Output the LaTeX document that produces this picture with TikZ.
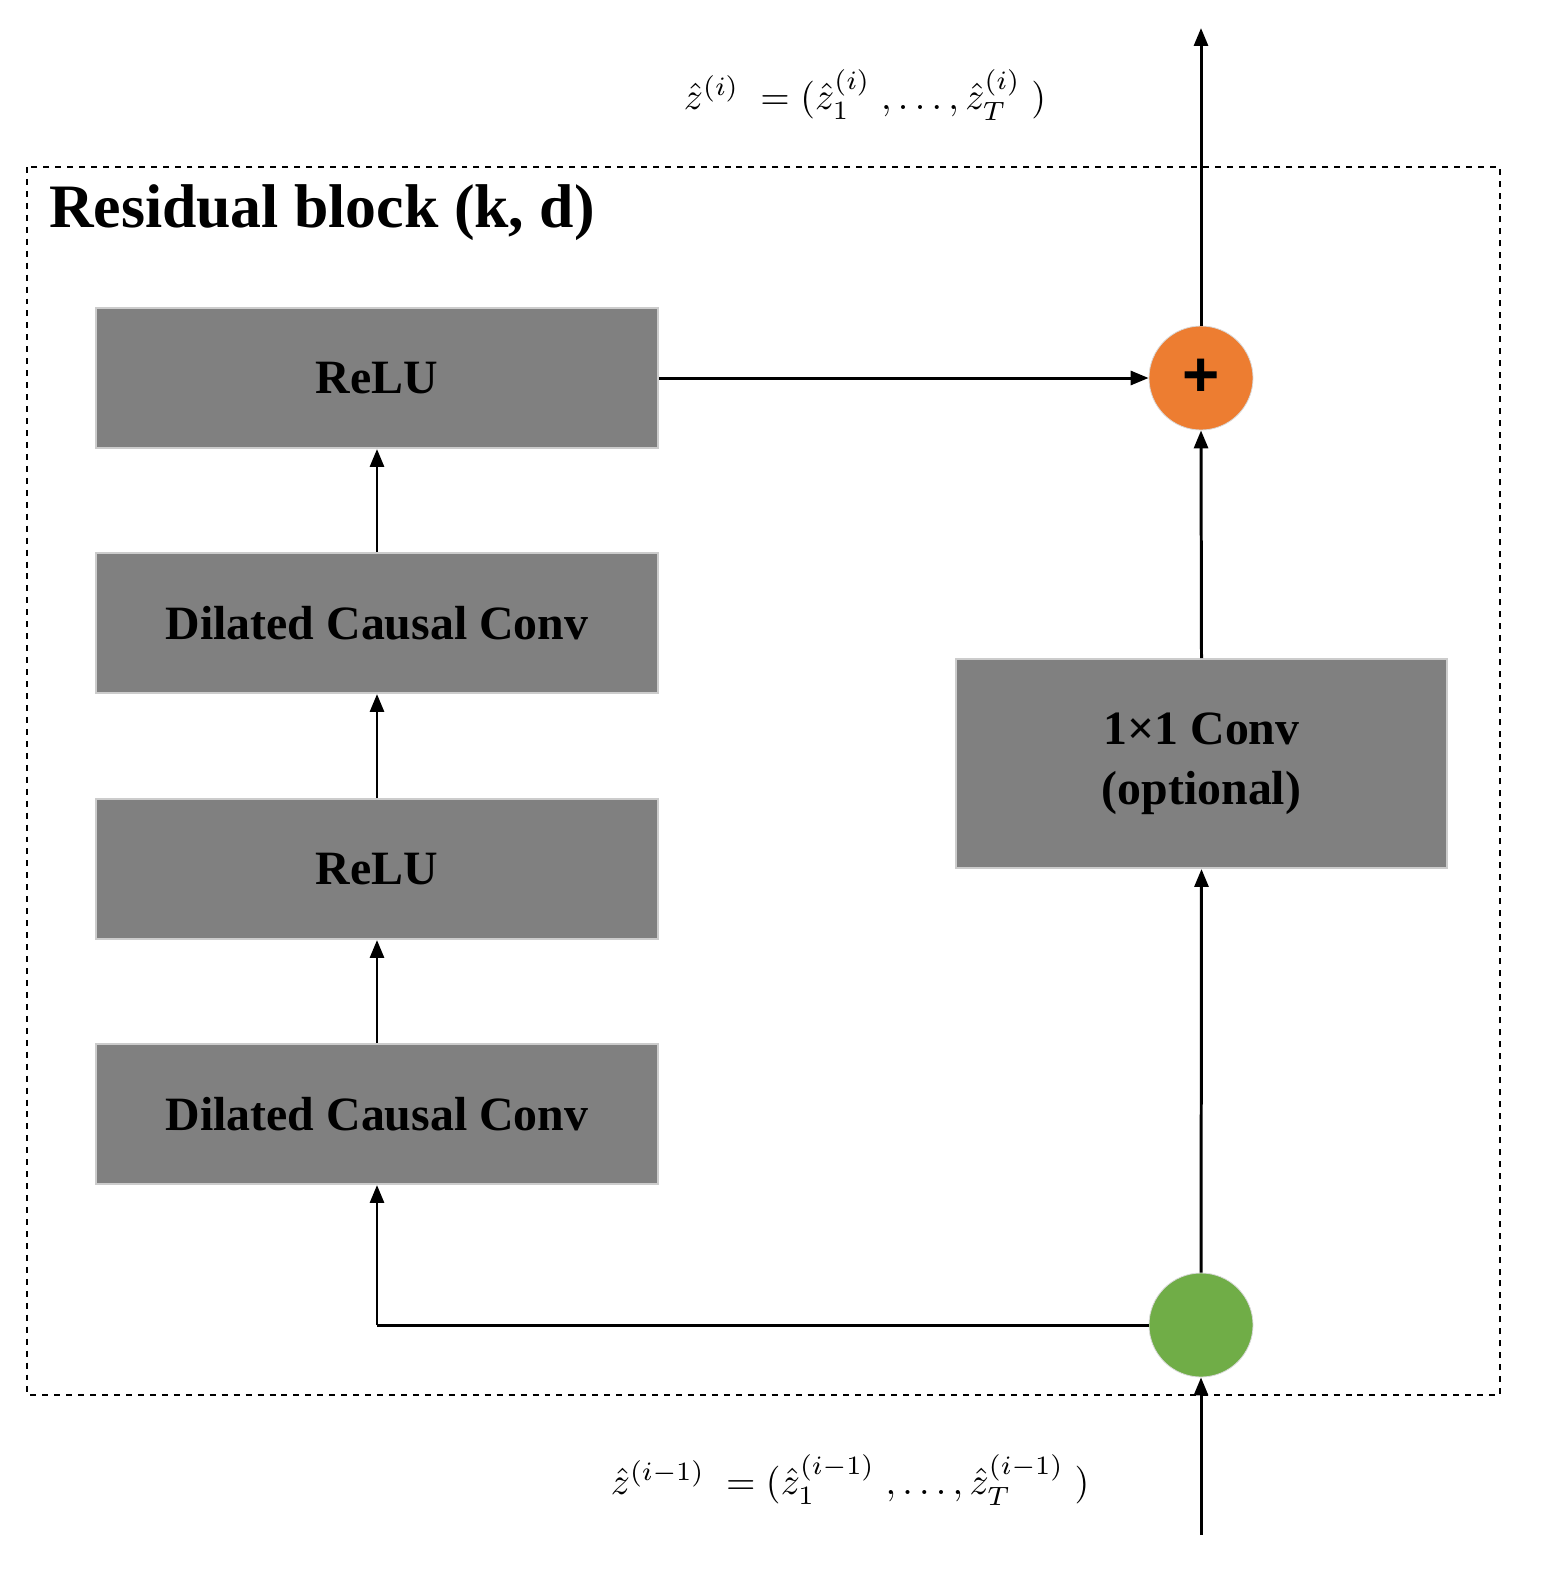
\documentclass[tikz,border=0pt]{standalone}
\usepackage{fontspec}
\usepackage{graphicx}
\setmainfont{Liberation Serif}
\newfontfamily\plusfont{Liberation Sans}
\usetikzlibrary{arrows.meta}
\definecolor{boxg}{HTML}{808080}
\definecolor{orng}{HTML}{ED7D31}
\definecolor{grn}{HTML}{70AD47}
\begin{document}
\begin{tikzpicture}[x=0.5bp,y=-0.5bp,
  box/.style={draw=black!20,line width=1pt,fill=boxg,inner sep=0pt,font=\fontsize{24}{30}\selectfont\bfseries,align=center},
  arr/.style={line width=1.5pt,-{Triangle[length=9pt,width=7pt]}},
  ln/.style={line width=1.5pt}]
\useasboundingbox (0,0) rectangle (1548,1584);
\draw[dashed,line width=0.8pt] (27,167) rectangle (1500,1395);
\node[anchor=west,font=\fontsize{31}{36}\selectfont\bfseries] (title) at (42,213) {Residual block (k, d)};
\node[box,minimum width=281bp,minimum height=70bp] (r2) at (377,378) {ReLU};
\node[box,minimum width=281bp,minimum height=70bp] (d2) at (377,623) {Dilated Causal Conv};
\node[box,minimum width=281bp,minimum height=70bp] (r1) at (377,869) {ReLU};
\node[box,minimum width=281bp,minimum height=70bp] (d1) at (377,1114) {Dilated Causal Conv};
\node[box,minimum width=245.5bp,minimum height=104.5bp] (cv) at (1201.5,763.5) {1×1 Conv\\(optional)};
\node[circle,fill=orng,draw=black!15,minimum size=52bp,inner sep=0pt,font=\fontsize{32}{32}\selectfont\plusfont\bfseries] (plus) at (1201,378) {+};
\node[circle,fill=grn,draw=black!15,minimum size=52bp,inner sep=0pt] (g) at (1201,1325) {};
\coordinate (in) at (1201,1535);
\coordinate (out) at (1201,28);
\coordinate (corner) at (377,1325);
\draw[arr] (in) -- (g.south);
\draw[arr] (g) -- (cv.south);
\draw[arr] (cv.north) -- (plus.south);
\draw[arr] (plus.north) -- (out);
\draw[arr] (r2.east) -- (plus.west);
\draw[ln] (g.west) -- (corner);
\draw[arr] (corner) -- (d1.south);
\draw[arr] (d1.north) -- (r1.south);
\draw[arr] (r1.north) -- (d2.south);
\draw[arr] (d2.north) -- (r2.south);
\node (ftop) at (865,95) {\scalebox{1.9}{$\hat{z}^{(i)}\;=(\hat{z}_1^{(i)}\;,\ldots,\hat{z}_T^{(i)}\;)$}};
\node (fbot) at (850,1480) {\scalebox{1.9}{$\hat{z}^{(i-1)}\;=(\hat{z}_1^{(i-1)}\;,\ldots,\hat{z}_T^{(i-1)}\;)$}};
\end{tikzpicture}
\end{document}
